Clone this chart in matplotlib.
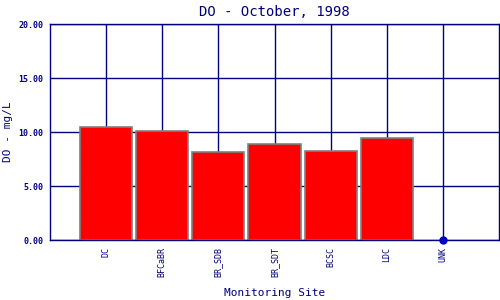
import matplotlib
matplotlib.use("Agg")
import matplotlib.pyplot as plt

NAVY = "#000080"

sites = ["DC", "BFCaBR", "BR_SDB", "BR_SDT", "BCSC", "LDC", "UNK"]
do_values = [10.45, 10.05, 8.12, 8.85, 8.27, 9.4]
missing = [0.0]

plt.rcParams['font.family'] = ['DejaVu Sans Mono']

fig = plt.figure(figsize=(5, 3), dpi=100)
ax = fig.add_axes([0.1, 0.2, 0.898, 0.72])

xs = list(range(1, len(sites) + 1))
ax.set_axisbelow(True)
ax.grid(True, color=NAVY, linewidth=1)
ax.bar(xs[:len(do_values)], do_values, width=0.93, color="red",
       edgecolor="#808080", linewidth=1.2, zorder=2)
ax.plot(xs[len(do_values):], missing, "o", color="#0000c0", markersize=5,
        zorder=3, clip_on=False)

ax.set_xlim(0, len(sites) + 1)
ax.set_ylim(0, 20)
ax.set_xticks(xs)
ax.set_xticklabels(sites, rotation=90, fontsize=6, color=NAVY)
ax.set_yticks([0, 5, 10, 15, 20])
ax.set_yticklabels(["%.2f" % v for v in [0, 5, 10, 15, 20]], fontsize=6,
                   color=NAVY, fontweight="bold")
ax.tick_params(length=0, pad=5)
for s in ax.spines.values():
    s.set_color(NAVY)
    s.set_linewidth(1)

ax.set_title("DO - October, 1998", fontsize=10, color=NAVY, pad=6)
ax.set_xlabel("Monitoring Site", fontsize=8, color=NAVY)
ax.set_ylabel("DO - mg/L", fontsize=8, color=NAVY)
ax.xaxis.set_label_coords(0.5, -0.245)
ax.yaxis.set_label_coords(-0.094, 0.5)
ax.xaxis.label.set_va("center")
ax.yaxis.label.set_va("center")

fig.savefig("out.png", dpi=100)
